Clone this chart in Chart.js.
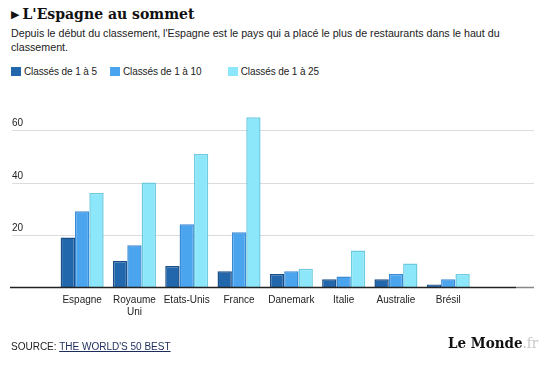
<!DOCTYPE html>
<html>
<head>
<meta charset="utf-8">
<script src="https://cdn.jsdelivr.net/npm/chart.js@4"></script>
<style>
  body { margin: 0; background: #fff; font-family: "Liberation Sans", Arial, sans-serif; color: #222; }
  #wrap { position: relative; width: 560px; height: 375px; overflow: hidden; }
  #chart { position: absolute; left: 0; top: 0; }
  .title { position: absolute; left: 11px; top: 4px; font-family: "DejaVu Serif Condensed", "DejaVu Serif", serif; font-weight: bold; font-size: 15.6px; color: #111; }
  .title .tri { font-family: "DejaVu Sans", sans-serif; font-size: 11px; margin-right: 3px; position: relative; top: -1px; }
  .sub { position: absolute; left: 11px; top: 26px; font-size: 10.7px; line-height: 14.4px; color: #222; white-space: nowrap; }
  #legend { position: absolute; left: 11px; top: 66px; font-size: 10px; }
  #legend span.item { position: absolute; white-space: nowrap; line-height: 12px; letter-spacing: -0.1px; }
  #legend i { display: inline-block; width: 10px; height: 9px; vertical-align: -1px; margin-right: 3px; }
  .source { position: absolute; left: 11px; top: 341px; font-size: 10px; }
  .source a { color: #1c2c5c; text-decoration: underline; }
  .logo { position: absolute; left: 448px; top: 334px; font-family: "DejaVu Serif Condensed", "DejaVu Serif", serif; font-weight: bold; font-size: 15px; color: #111; }
  .logo span { color: #c8c8c8; font-weight: normal; }
</style>
</head>
<body>
<div id="wrap">
  <div class="title"><span class="tri">▶</span>L'Espagne au sommet</div>
  <div class="sub">Depuis le début du classement, l'Espagne est le pays qui a placé le plus de restaurants dans le haut du<br>classement.</div>
  <div id="legend"></div>
  <canvas id="chart" width="560" height="375"></canvas>
  <div class="source">SOURCE: <a>THE WORLD'S 50 BEST</a></div>
  <div class="logo">Le Monde<span>.fr</span></div>
</div>
<script>
// Countries (x axis)
const countries = ["Espagne", ["Royaume", "Uni"], "Etats-Unis", "France", "Danemark", "Italie", "Australie", "Brésil"];

// Number of restaurants in each ranking band
const top5 = [19, 10, 8, 6, 5, 3, 3, 1];
const top10 = [29, 16, 24, 21, 6, 4, 5, 3];
const top25 = [36, 40, 51, 65, 7, 14, 9, 5];

const seriesNames = ["Classés de 1 à 5", "Classés de 1 à 10", "Classés de 1 à 25"];
const yTicks = [20, 40, 60];

const fills = ["#2266ac", "#4ba4ee", "#8ce7fb"];
const borders = ["#1a4f88", "#3a8bd6", "#6ccbdf"];
const legendX = [0, 99, 216.7];

// html legend
const legend = document.getElementById("legend");
seriesNames.forEach((name, i) => {
  const s = document.createElement("span");
  s.className = "item";
  s.style.left = legendX[i] + "px";
  s.innerHTML = '<i style="background:' + fills[i] + '"></i>' + name;
  legend.appendChild(s);
});

// grid lines, y labels and baseline across the full width
const gridPlugin = {
  id: "grid",
  beforeDatasetsDraw(chart) {
    const c = chart.ctx;
    const y = chart.scales.y;
    c.save();
    c.strokeStyle = "#dcdcdc";
    c.lineWidth = 1;
    c.fillStyle = "#222";
    c.font = "10px 'Liberation Sans', Arial, sans-serif";
    c.textBaseline = "alphabetic";
    yTicks.forEach(v => {
      const py = Math.round(y.getPixelForValue(v)) + 0.5;
      c.beginPath();
      c.moveTo(12, py);
      c.lineTo(534, py);
      c.stroke();
      c.fillText(String(v), 12, py - 5);
    });
    c.restore();
  },
  afterDatasetsDraw(chart) {
    const c = chart.ctx;
    const py = Math.round(chart.scales.y.getPixelForValue(0)) + 0.5;
    c.save();
    c.lineWidth = 1.5;
    c.strokeStyle = "#222";
    c.beginPath();
    c.moveTo(10, py);
    c.lineTo(516, py);
    c.stroke();
    c.strokeStyle = "#888";
    c.beginPath();
    c.moveTo(516, py);
    c.lineTo(534, py);
    c.stroke();
    c.restore();
  }
};

const ctx = document.getElementById("chart").getContext("2d");
new Chart(ctx, {
  type: "bar",
  data: {
    labels: countries,
    datasets: [top5, top10, top25].map((d, i) => ({
      label: seriesNames[i],
      data: d,
      backgroundColor: fills[i],
      borderColor: borders[i],
      borderWidth: 1.5,
      borderSkipped: "bottom",
      categoryPercentage: 0.823,
      barPercentage: 1.0,
    })),
  },
  options: {
    responsive: false,
    animation: false,
    layout: { padding: { left: 56, right: 85.6, top: 104.3, bottom: 50 } },
    plugins: {
      legend: { display: false },
      tooltip: { enabled: false },
    },
    scales: {
      x: {
        grid: { display: false, drawTicks: false },
        border: { display: false },
        ticks: {
          color: "#222",
          padding: 7,
          maxRotation: 0,
          autoSkip: false,
          font: { family: "'Liberation Sans', Arial, sans-serif", size: 10, lineHeight: 1.2 },
        },
      },
      y: {
        display: false,
        min: 0,
        max: 70,
      },
    },
  },
  plugins: [gridPlugin],
});
</script>
</body>
</html>
